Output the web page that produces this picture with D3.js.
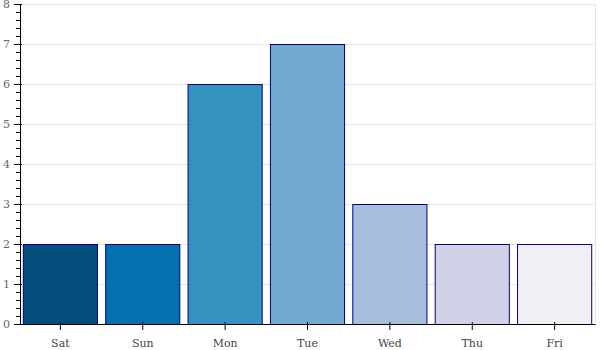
<!DOCTYPE html>
<html>
<head>
<meta charset="utf-8">
<script src="https://cdn.jsdelivr.net/npm/d3@7"></script>
<style>
  html, body { margin: 0; padding: 0; background: #fff; }
  svg { display: block; }
</style>
</head>
<body>
<svg id="chart" width="600" height="350"></svg>
<script>
const categories = ["Sat", "Sun", "Mon", "Tue", "Wed", "Thu", "Fri"];
const values = [2, 2, 6, 7, 3, 2, 2];
const colors = ["#034e7b", "#0570b0", "#3690c0", "#74a9cf", "#a6bddb", "#d0d1e6", "#f1eef6"];
const yTicks = [0, 1, 2, 3, 4, 5, 6, 7, 8];

(function () {
const svg = d3.select("#chart");
const mLeft = 20, mRight = 595, mTop = 4, mBottom = 324;

const x = d3.scaleBand().domain(categories).range([mLeft, mRight]).paddingInner(0.1).paddingOuter(0.04);
const y = d3.scaleLinear().domain([0, 8]).range([mBottom, mTop]);

// gridlines
svg.append("g").selectAll("line").data(yTicks).join("line")
  .attr("x1", mLeft).attr("x2", mRight + 0.5)
  .attr("y1", d => y(d) + 0.5).attr("y2", d => y(d) + 0.5)
  .attr("stroke", "#e5e5e5").attr("stroke-width", 1);
svg.append("line")
  .attr("x1", mRight + 0.5).attr("x2", mRight + 0.5)
  .attr("y1", y(8) + 0.5).attr("y2", y(0) + 0.5)
  .attr("stroke", "#e5e5e5");

// bars
svg.append("g").selectAll("rect").data(categories).join("rect")
  .attr("x", d => x(d))
  .attr("y", (d, i) => y(values[i]) + 0.5)
  .attr("width", x.bandwidth())
  .attr("height", (d, i) => y(0) - y(values[i]))
  .attr("fill", (d, i) => colors[i])
  .attr("stroke", "#00008b")
  .attr("stroke-width", 1);

// minor y ticks
const minor = d3.range(0, 8.0001, 0.2).filter(v => Math.abs(v - Math.round(v)) > 1e-6);
const yMinor = svg.append("g").attr("transform", `translate(${mLeft},0)`)
  .call(d3.axisLeft(y).tickValues(minor).tickSize(4).tickFormat(""));
yMinor.select(".domain").remove();
yMinor.selectAll("line").attr("stroke", "#000");

// major y axis
const yAxis = svg.append("g").attr("transform", `translate(${mLeft},0)`)
  .call(d3.axisLeft(y).tickValues(yTicks).tickSizeInner(6).tickSizeOuter(0).tickPadding(4));
yAxis.select(".domain").attr("stroke", "#000");
yAxis.selectAll(".tick line").attr("stroke", "#000").attr("x2", -6).attr("x1", 2);
yAxis.selectAll("text").attr("fill", "#666").style("font-family", "'DejaVu Serif', serif").style("font-size", "11px");

// x axis
const xAxis = svg.append("g").attr("transform", `translate(0,${mBottom})`)
  .call(d3.axisBottom(x).tickSizeInner(6).tickSizeOuter(0).tickPadding(9));
xAxis.select(".domain").attr("stroke", "#000");
xAxis.selectAll(".tick line").attr("stroke", "#000").attr("y1", -2).attr("y2", 6);
xAxis.selectAll("text").attr("fill", "#444").style("font-family", "'DejaVu Serif', serif").style("font-size", "11px");
})();
</script>
</body>
</html>
